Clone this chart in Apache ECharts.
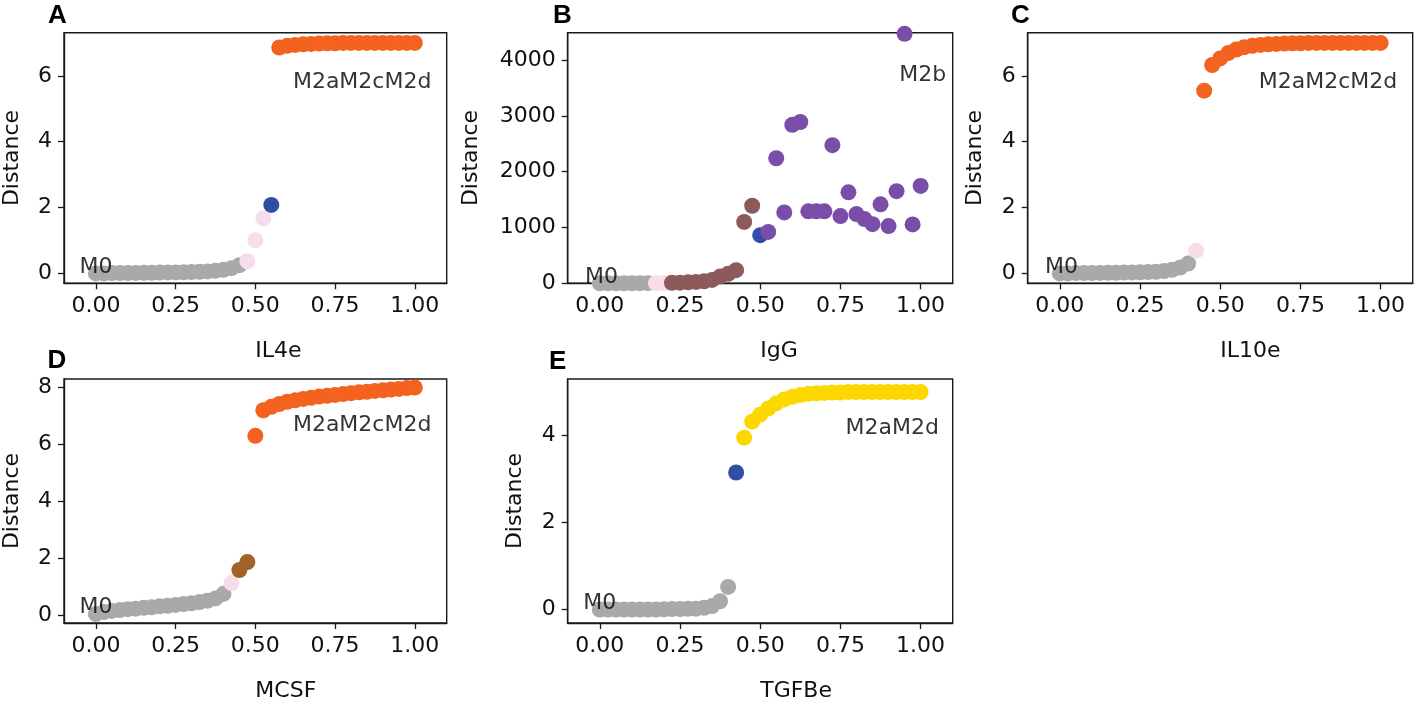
<!DOCTYPE html>
<html><head><meta charset="utf-8">
<script src="https://cdn.jsdelivr.net/npm/echarts@6/dist/echarts.min.js"></script>
<style>html,body{margin:0;padding:0;background:#fff}#c{width:1417px;height:703px}</style>
</head><body><div id="c"></div>
<script>
const X = [0,0.025,0.05,0.075,0.1,0.125,0.15,0.175,0.2,0.225,0.25,0.275,0.3,0.325,0.35,0.375,0.4,0.425,0.45,0.475,0.5,0.525,0.55,0.575,0.6,0.625,0.65,0.675,0.7,0.725,0.75,0.775,0.8,0.825,0.85,0.875,0.9,0.925,0.95,0.975,1];
const xTicks = [0,0.25,0.5,0.75,1];

const yA = [0,0,0.01,0.01,0.01,0.015,0.02,0.02,0.025,0.03,0.03,0.035,0.04,0.05,0.06,0.08,0.11,0.16,0.25,
  0.37,1.01,1.67, 2.08,
  6.86,6.91,6.94,6.96,6.97,6.98,6.99,6.99,7,7,7,7,7,7,7,7,7,7];
const groupsA = [['gray',19],['pink',3],['blue',1],['orange',18]];

const yB = [0,0,1,1,1,2,2, 3,4,
  8,12,18,25,35,60,120,170,235,1100,1390, 862,
  920,2240,1270,2840,2890,1290,1290,1290,2475,1205,1630,1240,1150,1060,1415,1025,1650,4470,1055,1745];
const groupsB = [['gray',7],['pink',2],['brownB',11],['blue',1],['purple',20]];

const yC = [0,0,0.01,0.01,0.01,0.015,0.02,0.02,0.025,0.03,0.035,0.04,0.05,0.07,0.11,0.18,0.30, 0.69,
  5.55,6.33,6.53,6.69,6.8,6.87,6.91,6.94,6.96,6.97,6.98,6.99,6.99,7,7,7,7,7,7,7,7,7,7];
const groupsC = [['gray',17],['pink',1],['orange',23]];

const yD = [0.03,0.1,0.14,0.17,0.2,0.22,0.25,0.27,0.3,0.32,0.35,0.38,0.41,0.45,0.5,0.58,0.74, 1.12, 1.58,1.86,
  6.30,7.20,7.32,7.42,7.5,7.55,7.6,7.64,7.68,7.71,7.74,7.77,7.8,7.83,7.85,7.88,7.9,7.93,7.95,7.98,8.0];
const groupsD = [['gray',17],['pink',1],['brownD',2],['orange',21]];

const yE = [0,0,0,0,0,0,0,0,0.005,0.01,0.01,0.015,0.02,0.04,0.08,0.19,0.52, 3.15,
  3.95,4.32,4.48,4.62,4.74,4.83,4.89,4.93,4.96,4.97,4.98,4.99,4.99,5,5,5,5,5,5,5,5,5,5];
const groupsE = [['gray',17],['blue',1],['yellow',23]];

const xNames = ['IL4e','IgG','IL10e','MCSF','TGFBe'];
const letters = ['A','B','C','D','E'];
const yTicksA = [0,2,4,6], yTicksB = [0,1000,2000,3000,4000], yTicksC = [0,2,4,6], yTicksD = [0,2,4,6,8], yTicksE = [0,2,4];

const colors = {gray:'#a9a9a9', pink:'#f7dce9', blue:'#2f4fa6', orange:'#f4621f', purple:'#7a4ea8', brownB:'#8d5a5b', brownD:'#a1632a', yellow:'#fcd800'};

// annotation text + anchor in data coordinates
const annA = [['M0',0,0.19,'center'],['M2aM2cM2d',1.052,5.81,'right']];
const annB = [['M0',0.005,113,'center'],['M2b',1.08,3733,'right']];
const annC = [['M0',0.005,0.19,'center'],['M2aM2cM2d',1.052,5.81,'right']];
const annD = [['M0',0,0.26,'center'],['M2aM2cM2d',1.052,6.66,'right']];
const annE = [['M0',0,0.15,'center'],['M2aM2d',1.057,4.16,'right']];

const panels = [
  {y:yA, g:groupsA, ann:annA, ticks:yTicksA, ymin:-0.3, ymax:7.31, left:61.7, top:32.7, gap:41},
  {y:yB, g:groupsB, ann:annB, ticks:yTicksB, ymin:0, ymax:4490, left:567.7, top:32.7, gap:85},
  {y:yC, g:groupsC, ann:annC, ticks:yTicksC, ymin:-0.3, ymax:7.31, left:1027.7, top:32.7, gap:41},
  {y:yD, g:groupsD, ann:annD, ticks:yTicksD, ymin:-0.285, ymax:8.30, left:61.7, top:379, gap:41},
  {y:yE, g:groupsE, ann:annE, ticks:yTicksE, ymin:-0.31, ymax:5.30, left:567.7, top:379, gap:41}
];
const letterPos = [[59,17],[564,17],[1022,17],[58.5,362],[560,363]];

const FONT = 'DejaVu Sans';
const TXT = '#111';
const grids = [], xAxes = [], yAxes = [], series = [], graphics = [];
panels.forEach((p, i) => {
  grids.push({left:p.left, top:p.top, width:385, height:250.6, show:true, borderColor:'#1a1a1a', borderWidth:1.4, backgroundColor:'transparent'});
  xAxes.push({type:'value', gridIndex:i, min:-0.1, max:1.1, name:xNames[i], nameLocation:'middle', nameGap:57,
    nameTextStyle:{fontFamily:FONT, fontSize:22, color:TXT, align:'left'},
    axisLine:{show:true, onZero:false, lineStyle:{color:'#1a1a1a', width:1.4}},
    axisTick:{show:true, length:6, customValues:xTicks, lineStyle:{color:'#1a1a1a', width:1.3}},
    axisLabel:{customValues:xTicks, formatter:v=>v.toFixed(2), fontFamily:FONT, fontSize:22, color:TXT, margin:12},
    splitLine:{show:false}});
  yAxes.push({type:'value', gridIndex:i, min:p.ymin, max:p.ymax, name:'Distance', nameLocation:'middle', nameRotate:90, nameGap:p.gap,
    nameTextStyle:{fontFamily:FONT, fontSize:22, color:TXT},
    axisLine:{show:true, onZero:false, lineStyle:{color:'#1a1a1a', width:1.4}},
    axisTick:{show:true, length:6, customValues:p.ticks, lineStyle:{color:'#1a1a1a', width:1.3}},
    axisLabel:{customValues:p.ticks, formatter:v=>String(Math.round(v)), fontFamily:FONT, fontSize:22, color:TXT, margin:12},
    splitLine:{show:false}});
  const cols = [];
  p.g.forEach(([c,n]) => { for (let k=0;k<n;k++) cols.push(colors[c]); });
  series.push({type:'scatter', xAxisIndex:i, yAxisIndex:i, symbolSize:16, z:2, clip:true,
    data: X.map((x,k)=>({value:[x, p.y[k]], itemStyle:{color:cols[k], opacity:1}})),
    emphasis:{disabled:true}});
  series.push({type:'scatter', xAxisIndex:i, yAxisIndex:i, symbolSize:0, z:5, silent:true,
    data: p.ann.map(a=>({value:[a[1],a[2]], name:a[0], label:{show:true, position:[0,0], align:a[3], verticalAlign:'middle',
      formatter:a[0], fontFamily:FONT, fontSize:22, color:'#000'}}))});
  graphics.push({type:'text', left:letterPos[i][0]-11, top:letterPos[i][1]-14,
    style:{text:letters[i], font:'bold 26px "Liberation Sans", Arial, sans-serif', fill:'#000'}});
});

const chart = echarts.init(document.getElementById('c'), null, {renderer:'canvas'});
chart.setOption({animation:false, backgroundColor:'#fff', grid:grids, xAxis:xAxes, yAxis:yAxes, series:series, graphic:graphics, tooltip:{show:false}});
</script>
</body></html>
